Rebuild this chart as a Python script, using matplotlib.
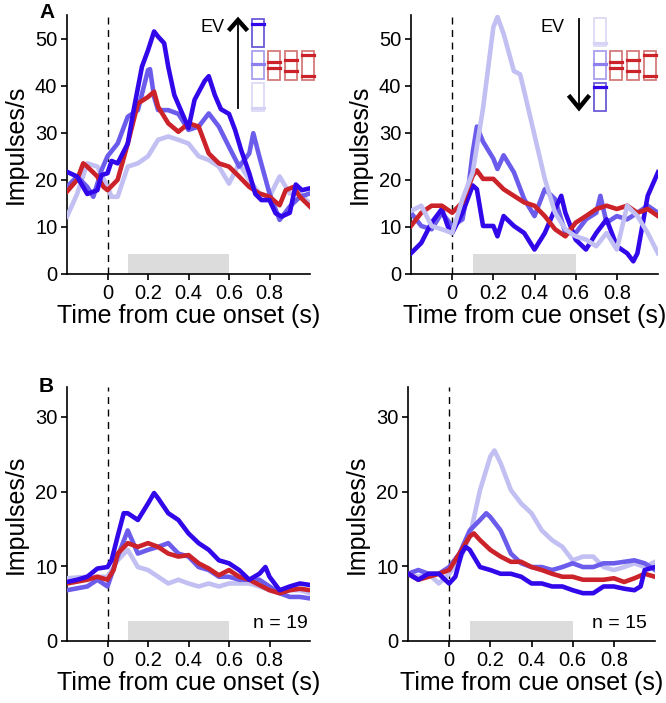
"""Cue-evoked firing rates by expected value (panels A, B), redrawn."""
import matplotlib
matplotlib.use('Agg')
import matplotlib.pyplot as plt
from matplotlib.patches import Rectangle

plt.rcParams.update({
    'font.family':      ['Liberation Sans', 'DejaVu Sans'],
    'font.size':        14,
    'axes.labelsize':   18,
    'xtick.labelsize':  14.5,
    'ytick.labelsize':  14.5,
    'axes.linewidth':   1.2,
    'xtick.major.width': 1.2,
    'ytick.major.width': 1.2,
    'xtick.major.size': 4,
    'ytick.major.size': 4,
})

C_DARK  = '#3208ea'
C_MED   = '#6c5cec'
C_LIGHT = '#c2bff3'
C_RED   = '#cc2229'

# ---- top left (single neuron, EV up) ----
A1_light_t = [-0.2, -0.15, -0.1, -0.05, 0, 0.02, 0.05, 0.1, 0.15, 0.2, 0.25, 0.3, 0.35, 0.4,
              0.45, 0.5, 0.55, 0.6, 0.65, 0.7, 0.75, 0.8, 0.85, 0.9, 0.95, 1.0]
A1_light_y = [12.2, 17.0, 23.5, 22.8, 18.5, 16.4, 16.4, 22.8, 23.5, 25.0, 28.5, 29.2, 28.5, 27.7,
              25.0, 24.2, 22.8, 19.2, 23.5, 20.0, 17.1, 16.4, 20.7, 17.1, 17.0, 15.0]
A1_med_t = [-0.2, -0.15, -0.1, -0.07, -0.03, 0, 0.05, 0.1, 0.15, 0.2, 0.21, 0.23, 0.25, 0.3, 0.35,
            0.4, 0.45, 0.5, 0.55, 0.6, 0.65, 0.7, 0.72, 0.75, 0.8, 0.85, 0.9, 0.95, 1.0]
A1_med_y = [18.5, 20.7, 18.5, 16.4, 22.0, 25.0, 27.7, 33.4, 34.8, 43.3, 43.5, 37.6, 34.8, 34.8, 34.0,
            30.6, 31.3, 34.1, 31.3, 27.0, 22.8, 25.6, 29.9, 24.9, 17.1, 11.5, 14.3, 16.4, 17.1]
A1_red_t = [-0.2, -0.15, -0.12, -0.1, -0.05, -0.02, 0, 0.05, 0.1, 0.15, 0.2, 0.23, 0.25, 0.3, 0.35,
            0.4, 0.45, 0.5, 0.55, 0.6, 0.65, 0.7, 0.75, 0.8, 0.85, 0.88, 0.92, 0.95, 1.0]
A1_red_y = [17.5, 20.0, 23.5, 22.8, 20.7, 18.5, 17.8, 20.0, 27.7, 36.2, 37.6, 38.7, 35.5, 32.0, 30.2,
            32.0, 31.3, 25.6, 23.5, 22.8, 20.7, 18.5, 17.1, 16.4, 14.6, 17.8, 18.5, 16.4, 14.3]
A1_dark_t = [-0.2, -0.15, -0.1, -0.05, -0.03, 0, 0.02, 0.05, 0.1, 0.13, 0.17, 0.2, 0.23, 0.25, 0.28,
             0.3, 0.33, 0.37, 0.4, 0.43, 0.48, 0.5, 0.53, 0.56, 0.6, 0.63, 0.66, 0.7, 0.73, 0.76,
             0.8, 0.83, 0.86, 0.9, 0.93, 0.96, 1.0]
A1_dark_y = [21.7, 20.7, 17.0, 17.8, 21.0, 21.4, 24.0, 23.5, 27.7, 35.0, 44.0, 47.5, 51.5, 50.4, 49.0,
             44.0, 38.0, 34.0, 31.0, 37.0, 41.0, 42.0, 38.0, 35.0, 34.0, 30.6, 26.3, 21.4, 17.0, 15.7,
             15.7, 12.9, 12.2, 13.0, 19.0, 17.8, 18.2]

# ---- top right (single neuron, EV down) ----
A2_light_t = [-0.2, -0.15, -0.1, -0.05, 0, 0.05, 0.1, 0.15, 0.2, 0.22, 0.25, 0.3, 0.33, 0.35, 0.4,
              0.45, 0.5, 0.55, 0.6, 0.65, 0.7, 0.75, 0.8, 0.85, 0.9, 0.95, 1.0]
A2_light_y = [13.4, 14.5, 10.2, 9.5, 8.7, 15.9, 21.6, 35.2, 52.4, 54.6, 51.0, 43.1, 42.4, 38.8, 29.5,
              20.2, 13.0, 9.5, 8.0, 7.3, 5.9, 8.7, 5.2, 14.5, 12.3, 8.7, 4.4]
A2_med_t = [-0.2, -0.15, -0.1, -0.05, 0, 0.05, 0.08, 0.1, 0.12, 0.15, 0.2, 0.22, 0.25, 0.3, 0.35,
            0.4, 0.45, 0.5, 0.55, 0.6, 0.65, 0.7, 0.72, 0.75, 0.8, 0.85, 0.9, 0.95, 1.0]
A2_med_y = [13.0, 10.2, 9.5, 13.0, 10.2, 11.6, 18.8, 25.9, 31.3, 28.1, 24.5, 22.3, 25.2, 21.6, 15.9,
            12.3, 18.0, 15.9, 8.7, 8.7, 11.6, 13.0, 16.6, 10.9, 12.3, 11.6, 13.0, 14.5, 13.0]
A2_red_t = [-0.2, -0.15, -0.1, -0.05, 0, 0.05, 0.1, 0.12, 0.15, 0.2, 0.25, 0.3, 0.35, 0.4, 0.45,
            0.5, 0.55, 0.6, 0.65, 0.7, 0.75, 0.8, 0.85, 0.9, 0.95, 1.0]
A2_red_y = [10.2, 13.0, 14.5, 14.5, 13.0, 15.2, 20.9, 22.0, 20.2, 20.2, 18.0, 16.6, 15.2, 14.5, 12.3,
            9.5, 8.0, 10.9, 12.3, 13.8, 14.5, 13.8, 14.5, 13.0, 13.8, 12.3]
A2_dark_t = [-0.2, -0.15, -0.1, -0.05, -0.02, 0, 0.05, 0.1, 0.12, 0.15, 0.2, 0.22, 0.25, 0.3, 0.35,
             0.4, 0.45, 0.5, 0.53, 0.55, 0.6, 0.65, 0.7, 0.75, 0.8, 0.85, 0.88, 0.9, 0.95, 1.0]
A2_dark_y = [4.4, 6.6, 10.9, 13.8, 10.0, 8.7, 13.0, 18.8, 18.0, 10.2, 10.2, 8.0, 12.3, 10.2, 8.7,
             5.2, 8.7, 13.8, 16.6, 13.0, 7.3, 5.2, 8.7, 11.6, 5.9, 4.4, 2.7, 4.4, 16.6, 21.6]

# ---- bottom left (population, n = 19) ----
B1_light_t = [-0.2, -0.1, 0, 0.05, 0.1, 0.15, 0.2, 0.25, 0.3, 0.35, 0.4, 0.45, 0.5, 0.55, 0.6,
              0.7, 0.75, 0.8, 0.85, 0.9, 0.95, 1.0]
B1_light_y = [8.4, 8.6, 8.6, 10.8, 12.2, 9.9, 9.5, 8.6, 7.7, 8.2, 7.7, 7.3, 7.7, 7.3, 7.7,
              7.7, 7.3, 6.8, 6.4, 6.8, 6.8, 6.4]
B1_med_t = [-0.2, -0.1, -0.05, 0, 0.05, 0.1, 0.15, 0.2, 0.25, 0.3, 0.35, 0.4, 0.45, 0.5, 0.55,
            0.6, 0.65, 0.7, 0.75, 0.8, 0.85, 0.9, 0.95, 1.0]
B1_med_y = [6.8, 7.3, 8.2, 7.3, 11.3, 14.8, 11.7, 12.2, 12.6, 13.1, 11.7, 11.3, 9.9, 9.5, 8.6,
            8.6, 8.2, 8.2, 8.2, 7.3, 6.4, 5.9, 5.9, 5.7]
B1_red_t = [-0.2, -0.1, -0.05, 0, 0.03, 0.05, 0.1, 0.15, 0.2, 0.25, 0.3, 0.35, 0.4, 0.45, 0.5,
            0.55, 0.6, 0.65, 0.7, 0.75, 0.8, 0.85, 0.9, 0.95, 1.0]
B1_red_y = [7.7, 8.2, 8.6, 8.2, 9.5, 11.7, 13.1, 12.6, 13.1, 12.6, 11.7, 11.3, 11.5, 10.4, 9.7,
            8.8, 9.5, 8.6, 8.2, 7.5, 6.8, 6.4, 6.8, 7.0, 6.8]
B1_dark_t = [-0.2, -0.15, -0.1, -0.05, 0, 0.02, 0.05, 0.08, 0.1, 0.15, 0.2, 0.23, 0.25, 0.3, 0.35,
             0.4, 0.45, 0.5, 0.55, 0.6, 0.65, 0.7, 0.75, 0.78, 0.8, 0.85, 0.9, 0.95, 1.0]
B1_dark_y = [7.9, 8.2, 8.6, 9.7, 9.9, 10.8, 14.0, 17.1, 17.1, 16.2, 18.4, 19.8, 19.1, 17.1, 16.2,
             14.4, 13.1, 12.2, 10.8, 10.4, 9.5, 8.2, 9.0, 9.9, 8.6, 6.8, 7.3, 7.7, 7.5]

# ---- bottom right (population, n = 15) ----
B2_light_t = [-0.2, -0.15, -0.1, -0.05, 0, 0.05, 0.1, 0.15, 0.2, 0.22, 0.25, 0.3, 0.35, 0.4, 0.45,
              0.5, 0.55, 0.6, 0.65, 0.7, 0.75, 0.8, 0.85, 0.9, 0.95, 1.0]
B2_light_y = [9.0, 8.6, 9.0, 7.7, 9.0, 10.8, 14.0, 20.2, 24.7, 25.5, 23.8, 20.2, 18.4, 17.1, 14.8,
              13.5, 12.6, 10.8, 11.3, 11.3, 9.9, 9.5, 9.9, 10.4, 9.9, 10.6]
B2_med_t = [-0.2, -0.15, -0.1, -0.05, 0, 0.05, 0.1, 0.15, 0.18, 0.2, 0.25, 0.3, 0.35, 0.4, 0.45,
            0.5, 0.55, 0.6, 0.65, 0.7, 0.75, 0.8, 0.85, 0.9, 0.95, 1.0]
B2_med_y = [9.0, 9.5, 9.0, 9.0, 9.9, 11.7, 14.8, 16.2, 17.1, 16.6, 14.8, 11.7, 10.4, 9.9, 9.9,
            9.5, 9.9, 10.4, 9.9, 9.9, 10.4, 10.4, 10.6, 10.8, 10.4, 9.5]
B2_red_t = [-0.2, -0.15, -0.1, -0.05, 0, 0.05, 0.1, 0.12, 0.15, 0.2, 0.25, 0.3, 0.35, 0.4, 0.45,
            0.5, 0.55, 0.6, 0.65, 0.7, 0.75, 0.8, 0.85, 0.9, 0.95, 1.0]
B2_red_y = [9.0, 8.2, 8.6, 9.0, 9.5, 11.7, 14.0, 14.4, 13.5, 12.2, 11.3, 10.6, 10.6, 9.9, 9.5,
            9.0, 8.6, 8.6, 8.2, 8.2, 8.2, 8.4, 7.9, 8.4, 9.0, 8.6]
B2_dark_t = [-0.2, -0.15, -0.1, -0.05, -0.02, 0, 0.03, 0.06, 0.08, 0.1, 0.15, 0.2, 0.25, 0.3, 0.35,
             0.4, 0.45, 0.5, 0.55, 0.6, 0.65, 0.7, 0.75, 0.8, 0.85, 0.9, 0.93, 0.95, 1.0]
B2_dark_y = [9.0, 8.2, 9.0, 9.0, 8.2, 7.7, 8.6, 11.7, 12.6, 12.2, 9.9, 9.5, 9.0, 9.0, 8.6,
             7.7, 7.7, 7.3, 7.3, 6.8, 6.4, 6.4, 7.3, 7.3, 7.0, 6.8, 7.3, 9.5, 9.9]

panels = [
    # pixel rect, ylim top, yticks, bar top, curves (bottom to top), n label
    ([67, 15, 310, 274], 55, [0, 10, 20, 30, 40, 50], 4.2,
     [(A1_light_t, A1_light_y, C_LIGHT), (A1_med_t, A1_med_y, C_MED),
      (A1_red_t, A1_red_y, C_RED), (A1_dark_t, A1_dark_y, C_DARK)], None),
    ([411, 15, 658, 274], 55, [0, 10, 20, 30, 40, 50], 4.2,
     [(A2_med_t, A2_med_y, C_MED), (A2_dark_t, A2_dark_y, C_DARK),
      (A2_red_t, A2_red_y, C_RED), (A2_light_t, A2_light_y, C_LIGHT)], None),
    ([67, 387, 310, 641], 34, [0, 10, 20, 30], 2.7,
     [(B1_light_t, B1_light_y, C_LIGHT), (B1_med_t, B1_med_y, C_MED),
      (B1_red_t, B1_red_y, C_RED), (B1_dark_t, B1_dark_y, C_DARK)], ('n = 19', 0.99)),
    ([408, 387, 655, 641], 34, [0, 10, 20, 30], 2.7,
     [(B2_light_t, B2_light_y, C_LIGHT), (B2_med_t, B2_med_y, C_MED),
      (B2_red_t, B2_red_y, C_RED), (B2_dark_t, B2_dark_y, C_DARK)], ('n = 15', 0.96)),
]

W, H = 666, 703
fig = plt.figure(figsize=(W / 100, H / 100), dpi=100)

for (x0, y0, x1, y1), ytop, yticks, bar_h, curves, ntxt in panels:
    ax = fig.add_axes([x0 / W, 1 - y1 / H, (x1 - x0) / W, (y1 - y0) / H])
    ax.add_patch(Rectangle((0.1, 0), 0.5, bar_h, facecolor='#dcdcdc', edgecolor='none', zorder=1))
    ax.axvline(0, color='black', lw=1.0, ls=(0, (5, 4)), zorder=2)
    for t, y, c in curves:
        ax.plot(t, y, '-', color=c, lw=3.3, solid_joinstyle='round', zorder=3)
    ax.set_xlim(-0.2, 1.0)
    ax.set_ylim(0, ytop)
    ax.set_xticks([0, 0.2, 0.4, 0.6, 0.8])
    ax.set_xticklabels(['0', '0.2', '0.4', '0.6', '0.8'])
    ax.set_yticks(yticks)
    ax.set_xlabel('Time from cue onset (s)', labelpad=1)
    ax.set_ylabel('Impulses/s', labelpad=5)
    for s in ('top', 'right'):
        ax.spines[s].set_visible(False)
    ax.tick_params(direction='out', pad=3)
    if ntxt:
        ax.text(ntxt[1], 2.3, ntxt[0], ha='right', va='center', fontsize=14)

# overlay in pixel coordinates for panel letters and EV key
ov = fig.add_axes([0, 0, 1, 1], zorder=10)
ov.set_xlim(0, W)
ov.set_ylim(H, 0)
ov.axis('off')
ov.patch.set_alpha(0)

ov.text(47, 12, 'A', fontsize=15, fontweight='bold', ha='center', va='center')
ov.text(46, 386, 'B', fontsize=15, fontweight='bold', ha='center', va='center')

RED_BARS = [(0.39, 0.59), (0.31, 0.68), (0.14, 0.85)]

def key(ax, arrow_x, up, ev_xy, col_x, blue_boxes, red_x):
    ax.text(ev_xy[0], ev_xy[1], 'EV', fontsize=13, ha='center', va='center')
    top, bot = (20, 108) if up else (19, 108)
    ax.plot([arrow_x, arrow_x], [top, bot], color='black', lw=1.3)
    if up:
        ax.plot([arrow_x - 8, arrow_x, arrow_x + 8], [top + 9, top, top + 9], color='black',
                lw=3.2, solid_joinstyle='miter')
    else:
        ax.plot([arrow_x - 9, arrow_x, arrow_x + 9], [bot - 11, bot, bot - 11], color='black',
                lw=3.2, solid_joinstyle='miter')
    # blue column: three boxes with the reward bar at a different height
    for by, frac, lc, ec in blue_boxes:
        ax.add_patch(Rectangle((col_x, by), 12, 28, facecolor='white', edgecolor=ec, lw=1.3))
        ax.plot([col_x, col_x + 12], [by + frac * 28] * 2, color=lc, lw=2.3)
    # red column: three boxes with two bars each
    for rx, fr in zip(red_x, RED_BARS):
        ax.add_patch(Rectangle((rx, 51), 12, 29, facecolor='white', edgecolor='#d47a7a', lw=1.3))
        for f in fr:
            ax.plot([rx, rx + 12], [51 + f * 29] * 2, color=C_RED, lw=2.3)

key(ov, 238, True, (212, 27), 252,
    [(19, 0.17, C_DARK, '#6a5ad8'), (51, 0.48, '#8c80ee', '#a8a0ee'), (82.5, 0.9, '#d6d3f6', '#dddbf6')],
    [268, 285, 302])
key(ov, 579, False, (553, 27), 594,
    [(18, 0.9, '#d6d3f6', '#dddbf6'), (51, 0.48, '#8c80ee', '#a8a0ee'), (82.5, 0.17, C_DARK, '#6a5ad8')],
    [610, 627, 643.5])

fig.savefig('out.png', dpi=100)
print('saved out.png')
